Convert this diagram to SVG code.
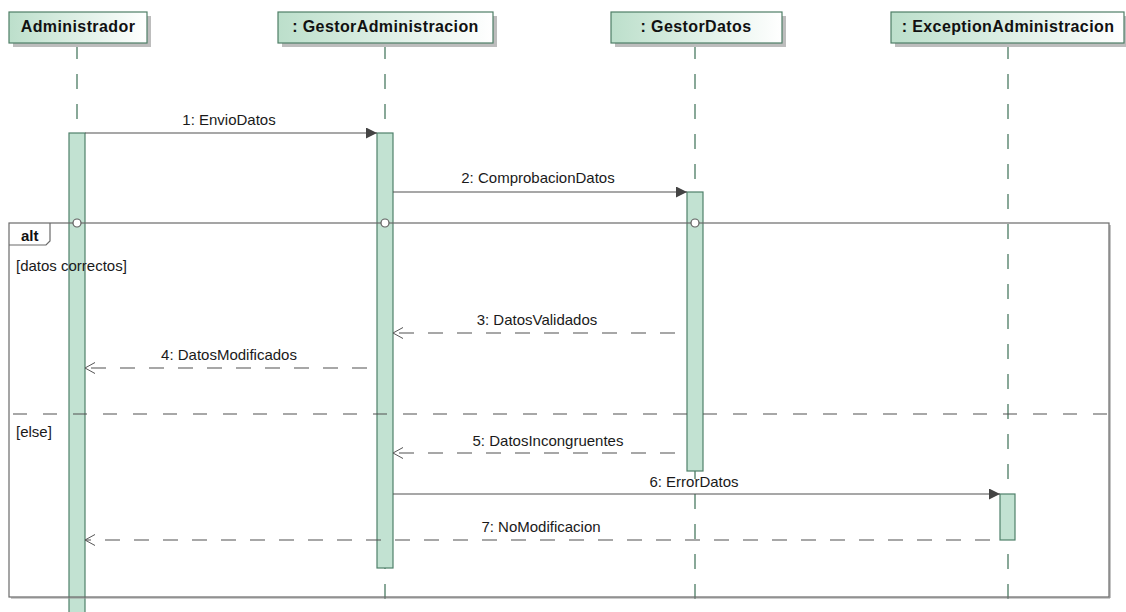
<svg xmlns="http://www.w3.org/2000/svg" width="1126" height="612" viewBox="0 0 1126 612">
  <defs>
    <linearGradient id="hdrFill" x1="0" y1="0" x2="1" y2="0">
      <stop offset="0" stop-color="#bcdfcb"/>
      <stop offset="1" stop-color="#ffffff"/>
    </linearGradient>
    <marker id="syncHead" viewBox="0 0 10 10" refX="10" refY="5" markerWidth="11" markerHeight="11" markerUnits="userSpaceOnUse" orient="auto">
      <path d="M0,0 L10,5 L0,10 Z" fill="#444"/>
    </marker>
    <marker id="replyHead" viewBox="0 0 12 12" refX="11" refY="6" markerWidth="12" markerHeight="12" markerUnits="userSpaceOnUse" orient="auto">
      <path d="M1,0.5 L11,6 L1,11.5" fill="none" stroke="#555" stroke-width="1"/>
    </marker>
    <style>
      .hdr { fill: url(#hdrFill); stroke: #4e7e66; stroke-width: 1.2; }
      .shadow { fill: #bdbdbd; }
      .hdrText { font-family: "Liberation Sans", Arial, sans-serif; font-weight: bold; font-size: 16px; fill: #111; text-anchor: middle; letter-spacing: 0.4px; }
      .life { stroke: #4a7a62; stroke-width: 1.3; stroke-dasharray: 15 15; fill: none; }
      .act { fill: #c2e2d2; stroke: #4f806a; stroke-width: 1.2; }
      .msg { stroke: #505050; stroke-width: 1.2; fill: none; }
      .reply { stroke: #505050; stroke-width: 1.2; fill: none; stroke-dasharray: 15 14; }
      .lbl { font-family: "Liberation Sans", Arial, sans-serif; font-size: 15px; fill: #1a1a1a; text-anchor: middle; }
      .frame { fill: none; stroke: #6a6a6a; stroke-width: 1.2; }
      .guard { font-family: "Liberation Sans", Arial, sans-serif; font-size: 15px; fill: #1a1a1a; }
      .knot { fill: #fff; stroke: #606060; stroke-width: 1.2; }
    </style>
  </defs>

  <!-- lifelines -->
  <g id="lifelines">
    <line class="life" x1="77" y1="44" x2="77" y2="612"/>
    <line class="life" x1="385" y1="44" x2="385" y2="612"/>
    <line class="life" x1="695" y1="44" x2="695" y2="612"/>
    <line class="life" x1="1008" y1="44" x2="1008" y2="612"/>
  </g>

  <!-- activation bars -->
  <g id="activations">
    <rect class="act" x="69" y="133" width="16" height="485"/>
    <rect class="act" x="377" y="133" width="16" height="435"/>
    <rect class="act" x="687" y="192" width="16" height="279"/>
    <rect class="act" x="1000" y="494" width="15" height="46"/>
  </g>

  <!-- combined fragment: alt (drawn over the bars) -->
  <g id="alt-fragment">
    <line x1="11" y1="598" x2="1110" y2="598" stroke="#9a9a9a" stroke-width="1.2"/>
    <line x1="1110" y1="225" x2="1110" y2="598" stroke="#9a9a9a" stroke-width="1.2"/>
    <rect class="frame" x="9" y="223" width="1100" height="374"/>
    <path class="frame" d="M9,245 L46,245 L50,241 L50,223"/>
    <text x="21" y="241" font-family="Liberation Sans, Arial, sans-serif" font-weight="bold" font-size="15" fill="#111">alt</text>
    <line x1="13" y1="414" x2="1109" y2="414" stroke="#505050" stroke-width="1.2" stroke-dasharray="14 16"/>
    <text class="guard" x="16" y="271">[datos correctos]</text>
    <text class="guard" x="16" y="437">[else]</text>
  </g>

  <!-- fragment crossing points -->
  <g id="fragment-knots">
    <circle class="knot" cx="77" cy="223" r="4"/>
    <circle class="knot" cx="385" cy="223" r="4"/>
    <circle class="knot" cx="695" cy="223" r="4"/>
  </g>

  <!-- lifeline heads -->
  <g id="administrador">
    <rect class="shadow" x="13" y="16" width="138" height="31"/>
    <rect class="hdr" x="9" y="12" width="138" height="31"/>
    <text class="hdrText" x="78" y="32">Administrador</text>
  </g>
  <g id="gestor-administracion">
    <rect class="shadow" x="282" y="16" width="215" height="31"/>
    <rect class="hdr" x="278" y="12" width="215" height="31"/>
    <text class="hdrText" x="385.5" y="32">: GestorAdministracion</text>
  </g>
  <g id="gestor-datos">
    <rect class="shadow" x="615" y="16" width="171" height="31"/>
    <rect class="hdr" x="611" y="12" width="171" height="31"/>
    <text class="hdrText" x="696" y="32">: GestorDatos</text>
  </g>
  <g id="exception-administracion">
    <rect class="shadow" x="895" y="16" width="233" height="31"/>
    <rect class="hdr" x="891" y="12" width="233" height="31"/>
    <text class="hdrText" x="1008" y="32">: ExceptionAdministracion</text>
  </g>

  <!-- messages -->
  <g id="connectors">
    <line class="msg" x1="85" y1="133" x2="377" y2="133" marker-end="url(#syncHead)"/>
    <text class="lbl" x="229" y="125">1: EnvioDatos</text>

    <line class="msg" x1="393" y1="192" x2="687" y2="192" marker-end="url(#syncHead)"/>
    <text class="lbl" x="538" y="183">2: ComprobacionDatos</text>

    <line class="reply" x1="675" y1="333" x2="393" y2="333" marker-end="url(#replyHead)"/>
    <text class="lbl" x="537" y="325">3: DatosValidados</text>

    <line class="reply" x1="367" y1="368" x2="85" y2="368" marker-end="url(#replyHead)"/>
    <text class="lbl" x="229" y="360">4: DatosModificados</text>

    <line class="reply" x1="675" y1="453" x2="393" y2="453" marker-end="url(#replyHead)"/>
    <text class="lbl" x="548" y="446">5: DatosIncongruentes</text>

    <line class="msg" x1="393" y1="494" x2="1000" y2="494" marker-end="url(#syncHead)"/>
    <text class="lbl" x="694" y="487">6: ErrorDatos</text>

    <line class="reply" x1="990" y1="540" x2="85" y2="540" marker-end="url(#replyHead)"/>
    <text class="lbl" x="541" y="532">7: NoModificacion</text>
  </g>
</svg>
